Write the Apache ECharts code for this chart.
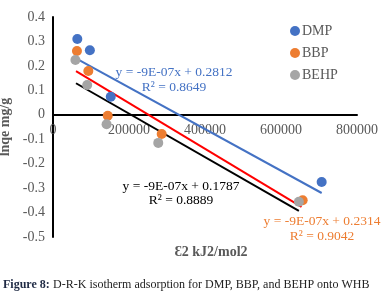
<!DOCTYPE html>
<html>
<head>
<meta charset="utf-8">
<script src="https://cdn.jsdelivr.net/npm/echarts@6/dist/echarts.min.js"></script>
<style>
html, body { margin: 0; padding: 0; background: #fff; }
#main { width: 392px; height: 298px; }
</style>
</head>
<body>
<div id="main"></div>
<script>
// 数据
var dmpX = [64000, 97000, 152000, 707000];
var dmpY = [0.31, 0.264, 0.074, -0.275];
var bbpX = [63000, 93000, 144000, 286000, 657000];
var bbpY = [0.261, 0.179, -0.004, -0.079, -0.35];
var behpX = [59000, 90000, 141000, 277000, 647000];
var behpY = [0.224, 0.122, -0.039, -0.115, -0.356];

// 趋势线两端
var dmpFit = [[60500, 0.231], [707000, -0.32]];
var bbpFit = [[60500, 0.179], [654000, -0.377]];
var behpFit = [[60500, 0.129], [647000, -0.393]];

var xTicks = [0, 800000, 200000]; // min, max, interval
var yTicks = [-0.5, 0.4, 0.1];

function pairs(xs, ys) {
	var out = [];
	for (var i = 0; i < xs.length; i++) out.push([xs[i], ys[i]]);
	return out;
}

var serif = 'Liberation Serif';
var chart = echarts.init(document.getElementById('main'));

chart.setOption({
	animation: false,
	grid: { left: 53, right: 35, top: 17, bottom: 61, containLabel: false, outerBoundsMode: 'none' },
	legend: {
		orient: 'vertical',
		left: 285,
		top: 19,
		itemGap: 8,
		itemWidth: 10,
		itemHeight: 10,
		data: ['DMP', 'BBP', 'BEHP'],
		textStyle: { fontFamily: serif, fontSize: 14, color: '#595959', padding: [0, 0, 0, -3] }
	},
	xAxis: {
		type: 'value',
		min: xTicks[0], max: xTicks[1], interval: xTicks[2],
		axisLine: { onZero: true, lineStyle: { color: '#000', width: 2 } },
		axisTick: { show: false },
		splitLine: { show: false },
		// 标签放在零线下方
		axisLabel: {
			fontFamily: serif, fontSize: 14, color: '#595959', margin: -114,
			formatter: function (v) { return String(v); }
		}
	},
	yAxis: {
		type: 'value',
		min: yTicks[0], max: yTicks[1], interval: yTicks[2],
		name: 'lnqe mg/g',
		nameLocation: 'middle',
		nameGap: 40,
		nameTextStyle: { fontFamily: serif, fontSize: 14, color: '#595959', fontWeight: 'bold' },
		axisLine: { show: true, onZero: false, lineStyle: { color: '#000', width: 2 } },
		axisTick: { show: false },
		splitLine: { show: false },
		axisLabel: { fontFamily: serif, fontSize: 14, color: '#595959', margin: 8 }
	},
	graphic: [
		{ type: 'text', x: 211, y: 252, style: { text: 'Ɛ2 kJ2/mol2', fontFamily: serif, fontSize: 14, fontWeight: 'bold', fill: '#595959', align: 'center', verticalAlign: 'middle' } },
		{ type: 'text', x: 174, y: 80, style: { text: 'y = -9E-07x + 0.2812\nR² = 0.8649', fontFamily: serif, fontSize: 13.5, lineHeight: 15, fill: '#4472C4', align: 'center', verticalAlign: 'middle' } },
		{ type: 'text', x: 181, y: 193, style: { text: 'y = -9E-07x + 0.1787\nR² = 0.8889', fontFamily: serif, fontSize: 13.5, lineHeight: 14, fill: '#000', align: 'center', verticalAlign: 'middle' } },
		{ type: 'text', x: 322, y: 229, style: { text: 'y = -9E-07x + 0.2314\nR² = 0.9042', fontFamily: serif, fontSize: 13.5, lineHeight: 15, fill: '#ED7D31', align: 'center', verticalAlign: 'middle' } },
		{ type: 'text', x: 3, y: 285, style: {
			rich: {
				b: { fontFamily: serif, fontSize: 12, fontWeight: 'bold', fill: '#1f2a44' },
				n: { fontFamily: serif, fontSize: 12, fill: '#222' }
			},
			text: '{b|Figure 8:} {n|D-R-K isotherm adsorption for DMP, BBP, and BEHP onto WHB}',
			verticalAlign: 'middle'
		} }
	],
	series: [
		{ name: 'DMP fit', type: 'line', data: dmpFit, symbol: 'none', lineStyle: { color: '#4472C4', width: 2 }, z: 1 },
		{ name: 'BBP fit', type: 'line', data: bbpFit, symbol: 'none', lineStyle: { color: '#FF0000', width: 2 }, z: 1 },
		{ name: 'BEHP fit', type: 'line', data: behpFit, symbol: 'none', lineStyle: { color: '#000', width: 2 }, z: 1 },
		{ name: 'DMP', type: 'scatter', data: pairs(dmpX, dmpY), symbolSize: 10, itemStyle: { color: '#4472C4', opacity: 1 }, z: 3 },
		{ name: 'BBP', type: 'scatter', data: pairs(bbpX, bbpY), symbolSize: 10, itemStyle: { color: '#ED7D31', opacity: 1 }, z: 3 },
		{ name: 'BEHP', type: 'scatter', data: pairs(behpX, behpY), symbolSize: 10, itemStyle: { color: '#A5A5A5', opacity: 1 }, z: 3 }
	]
});
</script>
</body>
</html>
